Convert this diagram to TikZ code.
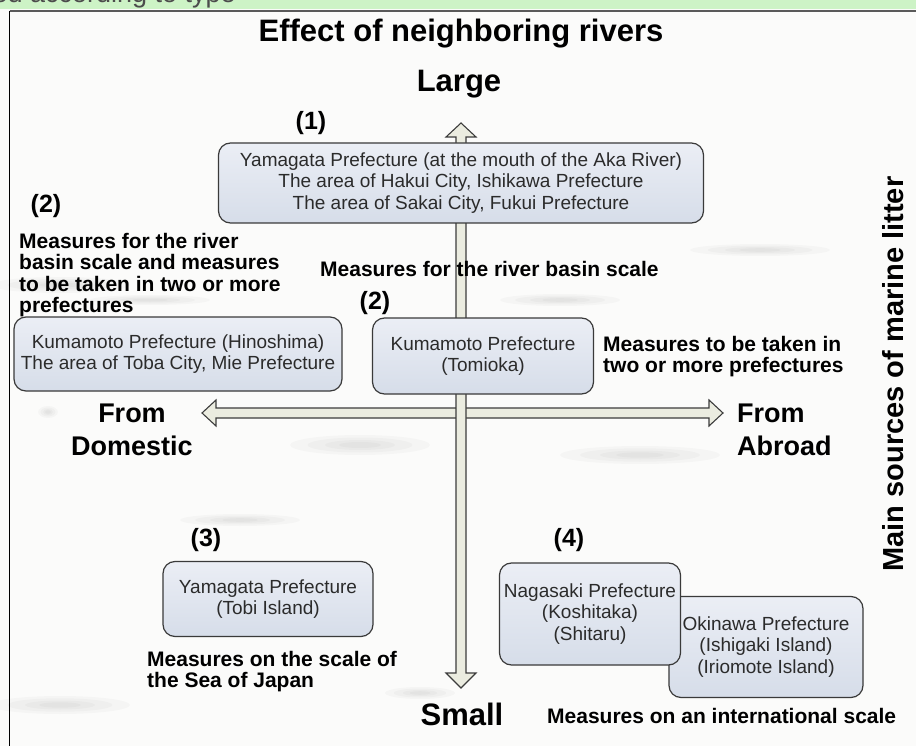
\documentclass[tikz,border=0pt]{standalone}
\usepackage{fontspec}
\setmainfont{Liberation Sans}
\definecolor{bandgreen}{HTML}{CDF3C6}
\definecolor{framegrey}{HTML}{5A5A5A}
\definecolor{boxedge}{HTML}{3A3A3A}
\definecolor{boxtop}{HTML}{EBEEF5}
\definecolor{boxbot}{HTML}{D6DDE9}
\definecolor{boxink}{HTML}{2B2B2B}
\definecolor{arrowfill}{HTML}{EBECE0}
\definecolor{arrowedge}{HTML}{3C3C3C}
\definecolor{paper}{HTML}{FBFBFA}
% soft grey stain in the paper: centre, half width, half height
\newcommand\paperstain[4]{%
  \foreach \k in {1,0.75,0.5,0.3}{%
    \fill[black, opacity=0.025] (#1,#2) ellipse[x radius=\k*#3, y radius=\k*#4];}}
\begin{document}
\begin{tikzpicture}[x=1pt,y=-1pt,
  place/.style={rounded corners=12pt, draw=boxedge, line width=1.2pt,
    top color=boxtop, bottom color=boxbot, text=boxink, align=center,
    font=\fontsize{19}{21.5}\selectfont, inner sep=0pt},
  axisarrow/.style={draw=arrowedge, line width=1.1pt, fill=arrowfill, line join=miter},
  heading/.style={font=\bfseries\fontsize{31}{33}\selectfont, inner sep=0pt},
  numlabel/.style={font=\bfseries\fontsize{25}{27}\selectfont, inner sep=0pt},
  direction/.style={font=\bfseries\fontsize{27}{33}\selectfont, inner sep=0pt, align=center},
  measure/.style={font=\bfseries\fontsize{21}{21.5}\selectfont, inner sep=0pt, align=left}]
\useasboundingbox (0,0) rectangle (916,746);
\clip (0,0) rectangle (916,746);

% page with a few faint stains, top band and frame
\fill[paper] (0,0) rectangle (916,746);
\paperstain{60}{285}{70}{8}
\paperstain{150}{300}{60}{5}
\paperstain{48}{412}{10}{6}
\paperstain{360}{445}{70}{10}
\paperstain{640}{455}{80}{9}
\paperstain{560}{300}{60}{6}
\paperstain{60}{705}{70}{9}
\paperstain{420}{693}{35}{6}
\paperstain{760}{250}{70}{6}
\paperstain{240}{520}{60}{6}
\fill[bandgreen] (0,0) rectangle (916,9);
\begin{scope}
  \clip (0,0) rectangle (916,9);
  \node[anchor=base east, inner sep=0pt, text=black!70, font=\fontsize{27}{29}\selectfont]
    (band) at (236,3) {classified according to type};
\end{scope}
\draw[framegrey, line width=2pt] (9.5,11) -- (916,11);
\draw[black, line width=1pt] (9.5,11) -- (9.5,746);

% titles
\node[heading] (title) at (461,34) {Effect of neighboring rivers};
\node[heading] (large) at (459,84) {Large};
\node[heading] (small) at (462,714) {Small};
\node[font=\bfseries\fontsize{29}{31}\selectfont, inner sep=0pt, rotate=90] (sources) at (893,374)
  {Main sources of marine litter};

% horizontal axis: domestic <-> abroad
\draw[axisarrow] (202,413) -- (216,400) -- (216,408) -- (709,408) -- (709,400) -- (723,413)
  -- (709,426) -- (709,418) -- (216,418) -- (216,426) -- cycle;
% vertical axis: large <-> small
\draw[axisarrow] (461,123) -- (476,137) -- (466,137) -- (466,673) -- (476,673) -- (461,688)
  -- (446,673) -- (456,673) -- (456,137) -- (446,137) -- cycle;

\node[direction] (fromdom) at (132,430) {From\\Domestic};
\node[direction, align=left, anchor=west] (fromabr) at (737,430) {From\\Abroad};

% group (1)
\node[numlabel] (n1) at (311,123) {(1)};
\node[place, minimum width=485pt, minimum height=80pt] (aka) at (461,183)
  {Yamagata Prefecture (at the mouth of the Aka River)\\
   The area of Hakui City, Ishikawa Prefecture\\
   The area of Sakai City, Fukui Prefecture};
\node[measure, anchor=north west] (mbasin) at (320,261) {Measures for the river basin scale};

% group (2)
\node[numlabel] (n2a) at (46,206) {(2)};
\node[measure, anchor=north west] (mboth) at (19,233)
  {Measures for the river\\basin scale and measures\\to be taken in two or more\\prefectures};
\node[place, minimum width=328pt, minimum height=74pt] (hino) at (178,354)
  {Kumamoto Prefecture (Hinoshima)\\The area of Toba City, Mie Prefecture};
\node[numlabel] (n2b) at (375,303) {(2)};
\node[place, minimum width=221pt, minimum height=76pt] (tomi) at (483,356)
  {Kumamoto Prefecture\\(Tomioka)};
\node[measure, anchor=north west] (mpref) at (603,336)
  {Measures to be taken in\\two or more prefectures};

% group (3)
\node[numlabel] (n3) at (206,540) {(3)};
\node[place, minimum width=210pt, minimum height=75pt] (tobi) at (268,599)
  {Yamagata Prefecture\\(Tobi Island)};
\node[measure, anchor=north west] (msea) at (147,651)
  {Measures on the scale of\\the Sea of Japan};

% group (4)
\node[numlabel] (n4) at (569,540) {(4)};
\node[place, minimum width=194pt, minimum height=101pt] (oki) at (766,647)
  {Okinawa Prefecture\\(Ishigaki Island)\\(Iriomote Island)};
\node[place, minimum width=181pt, minimum height=102pt] (naga) at (590,614)
  {Nagasaki Prefecture\\(Koshitaka)\\(Shitaru)};
\node[measure, anchor=west] (mintl) at (547,716) {Measures on an international scale};
\end{tikzpicture}
\end{document}
